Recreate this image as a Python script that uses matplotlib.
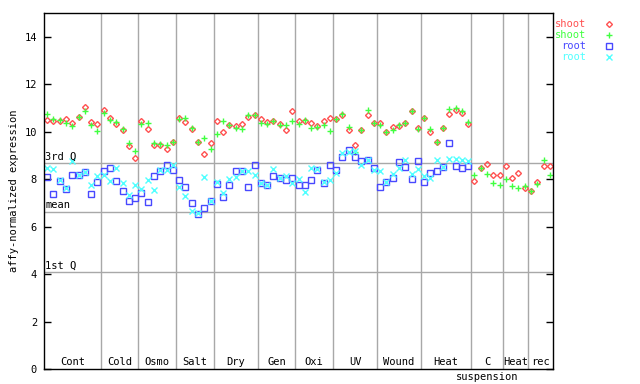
import matplotlib
matplotlib.use("Agg")
import matplotlib.pyplot as plt
import numpy as np

# === DATEN ===
groups = ["Cont", "Cold", "Osmo", "Salt", "Dry", "Gen", "Oxi", "UV",
          "Wound", "Heat", "C", "Heat", "rec"]
group_sizes = [9, 6, 6, 6, 7, 6, 6, 7, 7, 8, 5, 4, 4]

shoot_1 = [10.51, 10.46, 10.44, 10.55, 10.38, 10.62, 11.04, 10.41, 10.32,
           10.93, 10.58, 10.32, 10.08, 9.38, 8.90,
           10.46, 10.11, 9.45, 9.45, 9.27, 9.55,
           10.58, 10.41, 10.13, 9.55, 9.06, 9.52,
           10.46, 9.99, 10.27, 10.25, 10.32, 10.60, 10.69,
           10.53, 10.41, 10.46, 10.32, 10.08, 10.86,
           10.46, 10.46, 10.36, 10.22, 10.46, 10.58,
           10.53, 10.72, 10.08, 9.45, 10.08, 10.72, 10.36,
           10.36, 9.99, 10.20, 10.22, 10.36, 10.89, 10.15,
           10.58, 9.99, 9.55, 10.15, 10.76, 10.93, 10.79, 10.34,
           7.93, 8.49, 8.64, 8.19, 8.19,
           8.57, 8.04, 8.26, 7.62,
           7.48, 7.88, 8.54, 8.54]

shoot_2 = [10.76, 10.55, 10.51, 10.36, 10.22, 10.62, 10.89, 10.28, 10.04,
           10.79, 10.51, 10.41, 10.10, 9.52, 9.20,
           10.32, 10.36, 9.52, 9.48, 9.45, 9.56,
           10.53, 10.58, 10.15, 9.55, 9.73, 9.28,
           9.90, 10.46, 10.29, 10.15, 10.11, 10.69, 10.69,
           10.36, 10.32, 10.46, 10.29, 10.27, 10.46,
           10.32, 10.49, 10.15, 10.18, 10.29, 10.04,
           10.53, 10.74, 10.20, 9.15, 10.08, 10.90, 10.36,
           10.27, 9.97, 10.08, 10.29, 10.36, 10.89, 10.11,
           10.58, 10.11, 9.55, 10.15, 10.97, 11.00, 10.86, 10.41,
           8.16, 8.47, 8.21, 7.83, 7.76,
           8.02, 7.72, 7.62, 7.72,
           7.48, 7.79, 8.80, 8.19]

root_1 = [8.10, 7.38, 7.93, 7.59, 8.19, 8.19, 8.28, 7.38, 7.89,
          8.35, 8.48, 7.92, 7.50, 7.07, 7.20,
          7.41, 7.03, 8.13, 8.35, 8.59, 8.38,
          7.96, 7.68, 6.99, 6.53, 6.78, 7.06,
          7.79, 7.26, 7.76, 8.34, 8.34, 7.68, 8.61,
          7.82, 7.75, 8.13, 8.04, 7.96, 8.04,
          7.75, 7.75, 7.96, 8.38, 7.82, 8.61,
          8.38, 8.94, 9.22, 8.94, 8.78, 8.80, 8.47,
          7.68, 7.88, 8.04, 8.71, 8.52, 8.00, 8.78,
          7.88, 8.26, 8.35, 8.52, 9.52, 8.55, 8.49, 8.55]

root_2 = [8.48, 8.44, 7.97, 7.62, 8.75, 8.19, 8.30, 7.76, 8.14,
          8.17, 7.93, 8.49, 7.83, 7.34, 7.76,
          7.59, 7.96, 7.54, 8.38, 8.40, 8.59,
          7.68, 7.29, 6.67, 6.57, 8.10, 7.06,
          7.88, 7.40, 8.02, 8.10, 8.34, 8.35, 8.19,
          7.82, 7.75, 8.44, 8.04, 8.14, 7.83,
          8.02, 7.45, 8.48, 8.44, 7.86, 7.96,
          8.26, 9.09, 9.15, 9.20, 8.61, 8.82, 8.38,
          8.35, 7.88, 8.21, 8.49, 8.80, 8.21, 8.44,
          8.14, 8.04, 8.80, 8.52, 8.85, 8.85, 8.80, 8.78]

q3, mean, q1 = 8.69, 6.62, 4.08

# === PLOT ===
FONT = "DejaVu Sans Mono"
FS = 7.5
plt.rcParams["font.family"] = FONT
plt.rcParams["font.size"] = FS

RED, GREEN, BLUE, CYAN = "#ff5050", "#40ff40", "#4848ff", "#50ffff"
GRAY = "#a8a8a8"

fig = plt.figure(figsize=(6.4, 3.84), dpi=100)
ax = fig.add_axes([44 / 640, 15 / 384, 509 / 640, 356 / 384])

n = len(shoot_1)
xs = np.arange(n)
xr = np.arange(len(root_1))

ax.plot(xs, shoot_1, ls="none", marker="D", ms=3.0, mfc="none", mec=RED, mew=1.0, label="shoot")
ax.plot(xs, shoot_2, ls="none", marker="+", ms=5.0, mec=GREEN, mew=1.0, label="shoot")
ax.plot(xr, root_1, ls="none", marker="s", ms=3.7, mfc="none", mec=BLUE, mew=1.0, label="root")
ax.plot(xr, root_2, ls="none", marker="x", ms=3.8, mec=CYAN, mew=1.0, label="root")

# Quartil-Linien
for val, name in [(q3, "3rd Q"), (mean, "mean"), (q1, "1st Q")]:
    ax.axhline(val, color=GRAY, lw=1, zorder=0)
    ax.annotate(name, xy=(0, val), xycoords=("axes fraction", "data"),
                xytext=(1, 1), textcoords="offset points", ha="left", va="bottom")

# Gruppen-Trennlinien und Beschriftungen
bounds = np.cumsum([0] + group_sizes) - 0.5
for b in bounds[1:-1]:
    ax.axvline(b, color=GRAY, lw=1, zorder=0)
for i, name in enumerate(groups):
    c = (bounds[i] + bounds[i + 1]) / 2
    ax.annotate(name, xy=(c, 0), xycoords=("data", "axes fraction"),
                xytext=(0, 1.5), textcoords="offset points", ha="center", va="bottom")
c_susp = (bounds[10] + bounds[11]) / 2
ax.annotate("suspension", xy=(c_susp, 0), xycoords=("data", "axes fraction"),
            xytext=(0, -2), textcoords="offset points", ha="center", va="top",
            annotation_clip=False)

ax.set_xlim(-0.5, n - 0.5)
ax.set_ylim(0, 15)
ax.set_yticks(range(0, 15, 2))
ax.set_xticks([])
ax.tick_params(axis="y", direction="in", length=5, width=1, pad=5,
               left=True, right=True, labelsize=FS)
for s in ax.spines.values():
    s.set_linewidth(1)
    s.set_color("black")
ax.set_ylabel("affy-normalized expression", fontsize=FS, labelpad=4)

leg = fig.legend(loc="upper right", bbox_to_anchor=(627 / 640, 1 - 14 / 384),
                 markerfirst=False, frameon=False, borderpad=0,
                 handlelength=2.4, handletextpad=1.0, labelspacing=0.1,
                 labelcolor="markeredgecolor", fontsize=FS)

fig.savefig("out.png", dpi=100)
